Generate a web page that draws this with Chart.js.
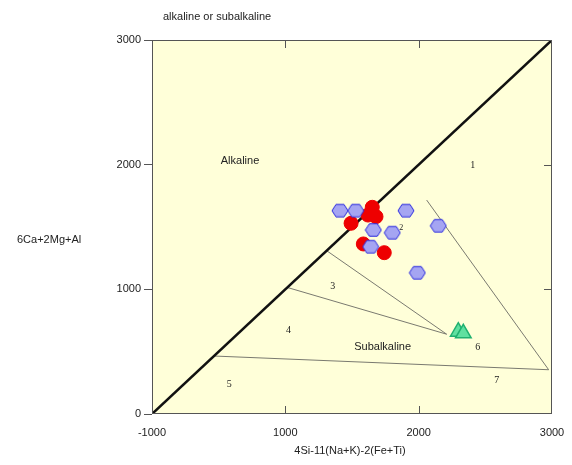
<!DOCTYPE html>
<html>
<head>
<meta charset="utf-8">
<script src="https://cdn.jsdelivr.net/npm/chart.js@4/dist/chart.umd.min.js"></script>
<style>
html,body{margin:0;padding:0;background:#fff}
</style>
</head>
<body>
<canvas id="grafica" width="572" height="465"></canvas>
<script>
// ticks
var xTicks = [0, 1000, 2000, 3000];
var xTickLabels = ['-1000', '1000', '2000', '3000'];
var yTicks = [0, 1000, 2000, 3000];

// muestras
var hexX = [1410, 1528, 1905, 2147, 1660, 1802, 1640, 1990];
var hexY = [1631, 1631, 1631, 1510, 1476, 1454, 1342, 1133];
var redX = [1652, 1680, 1620, 1493, 1585, 1742];
var redY = [1658, 1583, 1596, 1530, 1364, 1294];
var triX = [2297, 2335];
var triY = [660, 647];

// limites de campos
var diagX = [0, 3000];
var diagY = [0, 3000];
var limites = [
    {x: [1310, 2210], y: [1310, 640]},
    {x: [1015, 2210], y: [1015, 640]},
    {x: [465, 2975], y: [465, 355]},
    {x: [2060, 2975], y: [1716, 355]}
];

// etiquetas de campos
var etiquetas = ['Alkaline', '1', '2', '3', '4', 'Subalkaline', '5', '6', '7'];
var etqX = [660, 2405, 1870, 1355, 1023, 1730, 580, 2443, 2585];
var etqY = [2031, 1997, 1495, 1027, 668, 535, 240, 535, 272];

function puntos(xs, ys) {
    return xs.map(function (v, i) { return {x: v, y: ys[i]}; });
}

// hexagono como pointStyle
function hexagono() {
    var c = document.createElement('canvas');
    c.width = 18; c.height = 16;
    var g = c.getContext('2d');
    var cx = 9, cy = 8, r = 8;
    g.beginPath();
    for (var i = 0; i < 6; i++) {
        var a = Math.PI / 3 * i;
        var px = cx + r * Math.cos(a), py = cy + r * Math.sin(a) * 0.9;
        if (i == 0) g.moveTo(px, py); else g.lineTo(px, py);
    }
    g.closePath();
    g.fillStyle = '#a5a5f2';
    g.fill();
    g.strokeStyle = '#2a2ae0';
    g.lineWidth = 1;
    g.stroke();
    return c;
}

var datasets = [
    {data: puntos(hexX, hexY), pointStyle: hexagono(), order: 1},
    {data: puntos(redX, redY), pointStyle: 'circle', pointRadius: 7,
        backgroundColor: '#ee0000', borderColor: '#ee0000', order: 2},
    {data: puntos(triX, triY), pointStyle: 'triangle', pointRadius: 9,
        backgroundColor: '#5fe0a0', borderColor: '#1fb070', borderWidth: 1.5, order: 3},
    {data: puntos(diagX, diagY), showLine: true, pointRadius: 0,
        borderColor: '#111', borderWidth: 2.5, order: 4}
];
limites.forEach(function (l) {
    datasets.push({data: puntos(l.x, l.y), showLine: true, pointRadius: 0,
        borderColor: '#7a7a70', borderWidth: 1, order: 5});
});

var extras = {
    id: 'extras',
    beforeDraw: function (chart) {
        var a = chart.chartArea, c = chart.ctx;
        c.save();
        c.fillStyle = '#ffffd9';
        c.fillRect(a.left, a.top, a.right - a.left, a.bottom - a.top);
        c.restore();
    },
    beforeDatasetsDraw: function (chart) {
        var c = chart.ctx, sx = chart.scales.x, sy = chart.scales.y;
        c.save();
        c.fillStyle = '#222';
        c.textAlign = 'center';
        c.textBaseline = 'middle';
        etiquetas.forEach(function (t, i) {
            if (t.length > 1) c.font = '11px "Liberation Sans", Arial';
            else c.font = (t == '2' ? '8px' : '10px') + ' "Liberation Serif", serif';
            c.fillText(t, sx.getPixelForValue(etqX[i]), sy.getPixelForValue(etqY[i]));
        });
        c.restore();
    },
    afterDraw: function (chart) {
        var a = chart.chartArea, c = chart.ctx, sx = chart.scales.x, sy = chart.scales.y;
        c.save();
        c.strokeStyle = '#555';
        c.lineWidth = 1;
        c.strokeRect(a.left + 0.5, a.top + 0.5, a.right - a.left - 1, a.bottom - a.top - 1);
        c.beginPath();
        [1000, 2000].forEach(function (v) {
            var px = Math.round(sx.getPixelForValue(v)) + 0.5;
            c.moveTo(px, a.top); c.lineTo(px, a.top + 8);
            c.moveTo(px, a.bottom); c.lineTo(px, a.bottom - 8);
            var py = Math.round(sy.getPixelForValue(v)) + 0.5;
            c.moveTo(a.right, py); c.lineTo(a.right - 8, py);
        });
        c.stroke();
        c.fillStyle = '#222';
        c.font = '11px "Liberation Sans", Arial';
        c.textBaseline = 'middle';
        c.textAlign = 'left';
        c.fillText('alkaline or subalkaline', 163, 17);
        c.fillText('6Ca+2Mg+Al', 17, 240);
        c.textAlign = 'center';
        c.fillText('4Si-11(Na+K)-2(Fe+Ti)', 350, 451);
        c.restore();
    }
};

new Chart(document.getElementById('grafica'), {
    type: 'scatter',
    data: {datasets: datasets},
    options: {
        responsive: false,
        animation: false,
        layout: {padding: {left: 0, right: 20, top: 40, bottom: 0}},
        plugins: {legend: {display: false}, tooltip: {enabled: false}},
        scales: {
            x: {
                type: 'linear', min: 0, max: 3000,
                afterBuildTicks: function (s) { s.ticks = xTicks.map(function (v) { return {value: v}; }); },
                afterFit: function (s) { s.height = 51; s.paddingRight = 0; s.paddingLeft = 0; },
                grid: {display: false, drawTicks: false},
                border: {display: false},
                ticks: {
                    padding: 12, color: '#222', maxRotation: 0,
                    font: {family: '"Liberation Sans", Arial', size: 11},
                    callback: function (v, i) { return xTickLabels[i]; }
                }
            },
            y: {
                type: 'linear', min: 0, max: 3000,
                afterBuildTicks: function (s) { s.ticks = yTicks.map(function (v) { return {value: v}; }); },
                afterFit: function (s) { s.width = 152; s.paddingTop = 0; s.paddingBottom = 0; },
                grid: {drawOnChartArea: false, tickLength: 8, color: '#555'},
                border: {display: false},
                ticks: {
                    padding: 3, color: '#222',
                    font: {family: '"Liberation Sans", Arial', size: 11},
                    callback: function (v) { return String(v); }
                }
            }
        }
    },
    plugins: [extras]
});
</script>
</body>
</html>
